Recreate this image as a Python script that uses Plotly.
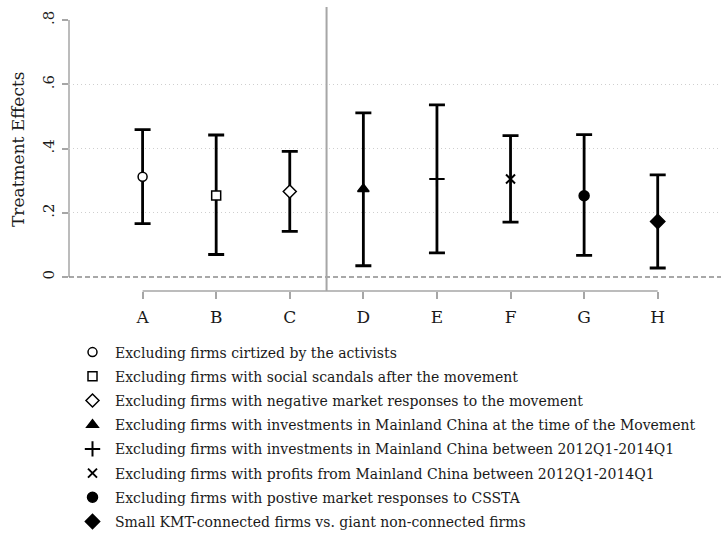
import plotly.graph_objects as go

# Robustness checks: point estimates with 95% confidence bounds
categories = ["A", "B", "C", "D", "E", "F", "G", "H"]
estimates = [0.312, 0.254, 0.266, 0.274, 0.305, 0.305, 0.253, 0.173]
lower = [0.166, 0.070, 0.142, 0.035, 0.075, 0.171, 0.067, 0.028]
upper = [0.459, 0.442, 0.391, 0.511, 0.536, 0.440, 0.443, 0.318]
labels = [
    "Excluding firms cirtized by the activists",
    "Excluding firms with social scandals after the movement",
    "Excluding firms with negative market responses to the movement",
    "Excluding firms with investments in Mainland China at the time of the Movement",
    "Excluding firms with investments in Mainland China between 2012Q1-2014Q1",
    "Excluding firms with profits from Mainland China between 2012Q1-2014Q1",
    "Excluding firms with postive market responses to CSSTA",
    "Small KMT-connected firms vs. giant non-connected firms",
]
y_tick_vals = [0, 0.2, 0.4, 0.6, 0.8]
y_tick_text = ["0", ".2", ".4", ".6", ".8"]
grid_vals = [0.2, 0.4, 0.6]
y_title = "Treatment Effects"
split_after = 3  # groups A-C vs D-H

# marker styles: (symbol, size, fill)
styles = [
    ("circle", 9, "white"),
    ("square", 9, "white"),
    ("diamond", 10, "white"),
    ("triangle-up", 10, "black"),
    ("cross-thin", 11, "black"),
    ("x-thin", 9, "black"),
    ("circle", 10, "black"),
    ("diamond", 11, "black"),
]

SERIF = "DejaVu Serif"
AXIS_GRAY = "#a6a6a6"
TEXT = "#1a1a1a"

fig = go.Figure()
for i, cat in enumerate(categories):
    sym, size, fill = styles[i]
    thin = sym.endswith("-thin")
    fig.add_trace(go.Scatter(
        x=[i], y=[estimates[i]],
        mode="markers",
        name=labels[i],
        legendgroup=cat,
        marker=dict(symbol=sym, size=size, color=fill,
                    line=dict(color="black", width=2 if thin else 1.5)),
        error_y=dict(type="data", symmetric=False,
                     array=[upper[i] - estimates[i]],
                     arrayminus=[estimates[i] - lower[i]],
                     color="black", thickness=2.8, width=8),
    ))

n = len(categories)
# axis line spanning first to last category, offset below the plot
fig.add_shape(type="line", xref="x", yref="paper", x0=0, x1=n - 1, y0=0, y1=0,
              line=dict(color=AXIS_GRAY, width=1.5), layer="below")
# y axis line from 0 to the top tick
fig.add_shape(type="line", xref="paper", yref="y", x0=0, x1=0,
              y0=y_tick_vals[0], y1=y_tick_vals[-1],
              line=dict(color=AXIS_GRAY, width=1.5), layer="below")
# zero reference line
fig.add_shape(type="line", xref="paper", yref="y", x0=0, x1=1, y0=0, y1=0,
              line=dict(color="#8c8c8c", width=1.3, dash="5px,3px"), layer="below")
# group separator
fig.add_shape(type="line", xref="x", yref="paper", x0=split_after - 0.5, x1=split_after - 0.5,
              y0=0, y1=1, line=dict(color=AXIS_GRAY, width=2), layer="below")

# y axis title, rotated, centred on the plotting area
fig.add_annotation(text=y_title, textangle=-90, showarrow=False,
                   xref="paper", x=-51 / 652, xanchor="center",
                   yref="paper", y=0.5, yanchor="middle",
                   font=dict(family=SERIF, size=17, color=TEXT))

fig.update_layout(
    width=721, height=534,
    margin=dict(l=69, r=0, t=7, b=243, autoexpand=False),
    paper_bgcolor="white", plot_bgcolor="white",
    font=dict(family=SERIF, color=TEXT),
    showlegend=True,
    legend=dict(xref="container", yref="container", x=70 / 721, y=1 - 336.5 / 534,
                xanchor="left", yanchor="top", tracegroupgap=3,
                font=dict(family=SERIF, size=14, color=TEXT),
                bgcolor="rgba(0,0,0,0)", itemwidth=35),
    xaxis=dict(range=[-1.0, 7.86], tickvals=list(range(n)), ticktext=categories,
               showgrid=False, zeroline=False, showline=False,
               ticks="outside", ticklen=7, tickcolor=AXIS_GRAY, tickwidth=1.5,
               ticklabelstandoff=4,
               tickfont=dict(family=SERIF, size=17, color=TEXT)),
    yaxis=dict(range=[-0.0436, 0.8405], tickvals=y_tick_vals, ticktext=y_tick_text,
               tickangle=-90, showgrid=False, zeroline=False, showline=False,
               ticks="outside", ticklen=6, tickcolor=AXIS_GRAY, tickwidth=1.5,
               ticklabelstandoff=2,
               tickfont=dict(family=SERIF, size=15, color=TEXT)),
    yaxis2=dict(range=[-0.0436, 0.8405], overlaying="y", tickvals=grid_vals,
                showticklabels=False, showgrid=True, gridcolor="#cfcfcf",
                griddash="1px,3px", gridwidth=1, zeroline=False, showline=False),
)
# invisible trace to activate the grid-only axis
fig.add_trace(go.Scatter(x=[], y=[], yaxis="y2", showlegend=False, hoverinfo="skip"))

fig.write_html("out.html")
